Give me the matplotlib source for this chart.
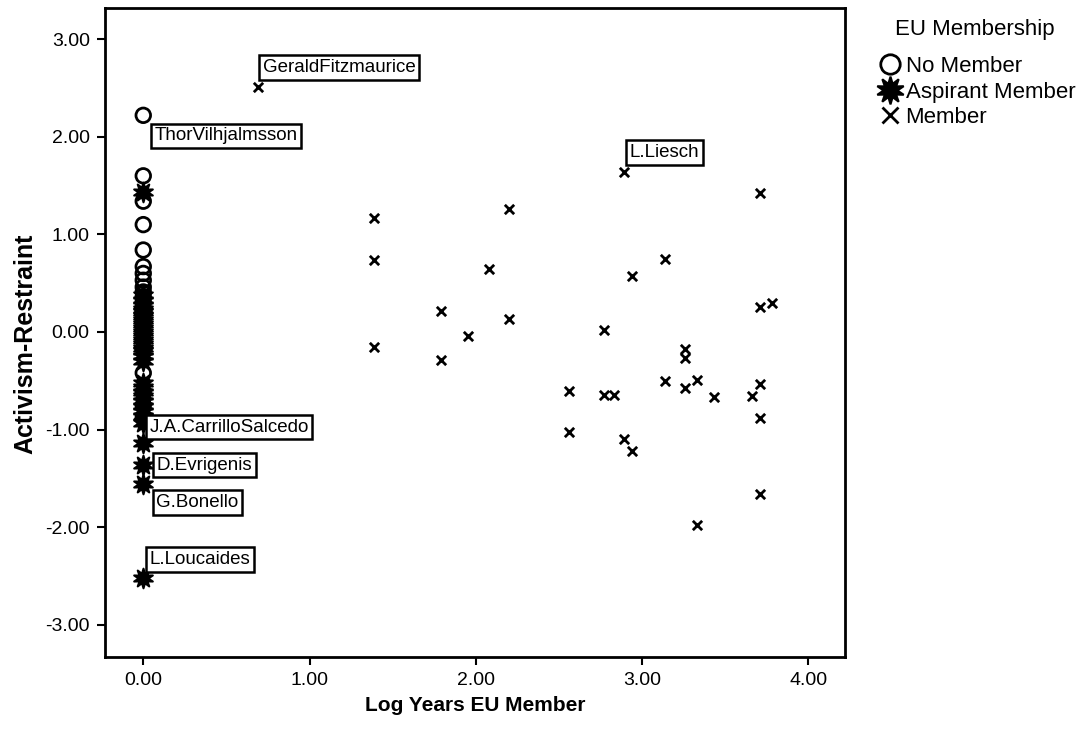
import matplotlib
matplotlib.use('Agg')
import matplotlib.pyplot as plt
from matplotlib.lines import Line2D

plt.rcParams['font.family'] = ['Liberation Sans', 'DejaVu Sans']

# non-members (log years = 0)
no_member_y = [2.22, 1.60, 1.34, 1.10, 0.84, 0.67, 0.60, 0.53, 0.46, 0.41, 0.36,
               0.31, 0.25, 0.18, 0.12, 0.06, 0.00, -0.08, -0.42, -0.62, -0.75, -0.88]
no_member_x = [0.0] * len(no_member_y)

# aspirant members (log years = 0)
aspirant_y = [1.43, 0.38, 0.33, 0.28, 0.24, 0.20, 0.16, 0.12, 0.08, 0.04, 0.00,
              -0.04, -0.08, -0.12, -0.16, -0.20, -0.25, -0.30, -0.52, -0.56,
              -0.61, -0.66, -0.71, -0.76, -0.81, -0.86, -0.93, -1.14, -1.36,
              -1.56, -2.52]
aspirant_x = [0.0] * len(aspirant_y)

# members
member_x = [0.69, 1.39, 1.39, 1.39, 1.79, 1.79, 1.95, 2.08, 2.20, 2.20,
            2.56, 2.56, 2.77, 2.77, 2.83, 2.89, 2.89, 2.94, 2.94, 3.14, 3.14,
            3.26, 3.26, 3.26, 3.33, 3.33, 3.43, 3.66, 3.71, 3.71, 3.71, 3.71,
            3.71, 3.78]
member_y = [2.51, 1.17, 0.74, -0.15, 0.21, -0.29, -0.04, 0.65, 1.26, 0.13,
            -0.60, -1.02, 0.02, -0.65, -0.65, 1.64, -1.10, 0.57, -1.22, 0.75, -0.50,
            -0.17, -0.27, -0.57, -0.49, -1.98, -0.67, -0.66, 1.42, 0.26, -0.53, -0.88,
            -1.66, 0.30]

# labelled judges
labels = ['GeraldFitzmaurice', 'ThorVilhjalmsson', 'L.Liesch', 'J.A.CarrilloSalcedo',
          'D.Evrigenis', 'G.Bonello', 'L.Loucaides']
label_x = [0.69, 0.0, 2.89, 0.0, 0.0, 0.0, 0.0]
label_y = [2.51, 2.22, 1.64, -0.93, -1.36, -1.56, -2.52]
label_off = [(5, 11), (11, -29), (6, 11), (6, -13), (13, -9), (13, -27), (6, 10)]

fig = plt.figure(figsize=(10.76, 7.38), dpi=100)
ax = fig.add_axes([0.0976, 0.1098, 0.6877, 0.8794])

ax.scatter(no_member_x, no_member_y, s=110, facecolors='none', edgecolors='black',
           linewidths=2, zorder=3)
ax.scatter(aspirant_x, aspirant_y, s=200, marker=(10, 1, 0), color='black',
           linewidths=1.5, zorder=3)
ax.scatter(member_x, member_y, s=45, marker='x', color='black', linewidths=2,
           zorder=3)

for t, x, y, off in zip(labels, label_x, label_y, label_off):
    ax.annotate(t, (x, y), xytext=off, textcoords='offset pixels', fontsize=13.5,
                ha='left', va='bottom',
                bbox=dict(boxstyle='square,pad=0.2', fc='white', ec='black', lw=1.8),
                zorder=4)

ax.set_xlim(-0.23, 4.22)
ax.set_ylim(-3.33, 3.32)
ax.set_xticks([0, 1, 2, 3, 4])
ax.set_xticklabels(['0.00', '1.00', '2.00', '3.00', '4.00'])
ax.set_yticks([-3, -2, -1, 0, 1, 2, 3])
ax.set_yticklabels(['-3.00', '-2.00', '-1.00', '0.00', '1.00', '2.00', '3.00'])
ax.tick_params(direction='out', length=6, width=1.5, labelsize=14, pad=5)
for s in ax.spines.values():
    s.set_linewidth(2)

ax.set_xlabel('Log Years EU Member', fontsize=15, fontweight='bold', labelpad=5)
ax.set_ylabel('Activism-Restraint', fontsize=18, fontweight='bold')
ax.yaxis.set_label_coords(-0.092, 0.482)

# legend
fig.text(895 / 1076, 1 - 30 / 738, 'EU Membership', fontsize=16, va='center', ha='left')
handles = [
    Line2D([], [], ls='none', marker='o', ms=14, mfc='none', mec='black', mew=2),
    Line2D([], [], ls='none', marker=(10, 1, 0), ms=20, color='black', mew=1.5),
    Line2D([], [], ls='none', marker='x', ms=11, color='black', mew=2),
]
fig.legend(handles, ['No Member', 'Aspirant Member', 'Member'],
           loc='upper left', bbox_to_anchor=(0.8148, 0.924), frameon=False,
           fontsize=16, handlelength=1.2, handletextpad=0.1, labelspacing=0.2,
           borderpad=0, borderaxespad=0)

fig.savefig('out.png', dpi=100)
